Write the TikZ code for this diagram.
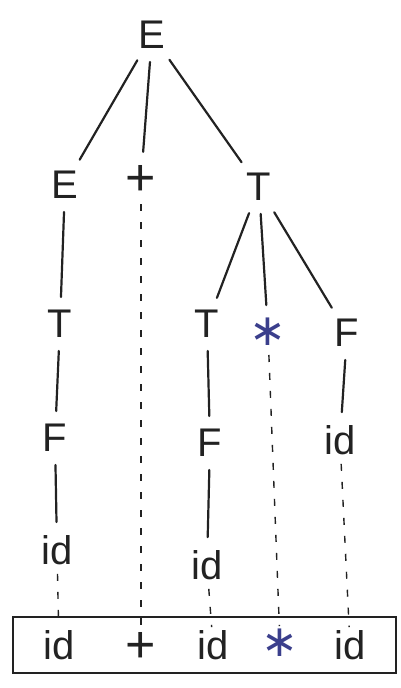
\documentclass[tikz,border=0pt]{standalone}
\usepackage{fontspec}
\setmainfont{Liberation Sans}
\newfontfamily\opfont{DejaVu Sans}
\usetikzlibrary{fit}
\definecolor{pencil}{HTML}{222222}
\definecolor{inkblue}{HTML}{3B3F8C}

\begin{document}
\begin{tikzpicture}[x=1pt, y=-1pt,
    sym/.style={inner sep=1pt, text=pencil, font=\fontsize{40}{44}\selectfont},
    plussym/.style={sym, font=\fontsize{52}{56}\selectfont},
    op/.style={sym, text=inkblue, font=\opfont\fontsize{44}{48}\selectfont},
    edge/.style={draw=pencil, line width=2.2pt, line cap=round, shorten <=12pt, shorten >=12pt},
    trace/.style={draw=pencil, line width=1.4pt, dash pattern=on 7pt off 11pt, shorten <=8pt, shorten >=2pt}
  ]
  \useasboundingbox (0,0) rectangle (401,688);

  % derivation tree
  \node[sym]     (root)  at (152,35)  {E};
  \node[sym]     (e2)    at (65,185)  {E};
  \node[plussym] (plus2) at (141,180) {+};
  \node[sym]     (t2)    at (259,187) {T};
  \node[sym]     (t3l)   at (60,324)  {T};
  \node[sym]     (t3m)   at (207,324) {T};
  \node[op]      (star3) at (268,332) {∗};
  \node[sym]     (f3)    at (347,333) {F};
  \node[sym]     (f4l)   at (55,438)  {F};
  \node[sym]     (f4m)   at (210,443) {F};
  \node[sym]     (id4)   at (340,440) {id};
  \node[sym]     (id5l)  at (57,550)  {id};
  \node[sym]     (id5m)  at (207,565) {id};

  % yield
  \node[sym]     (leafid1)  at (59,645)  {id};
  \node[plussym] (leafplus) at (141,647) {+};
  \node[sym]     (leafid2)  at (213,645) {id};
  \node[op]      (leafstar) at (280,643) {∗};
  \node[sym]     (leafid3)  at (350,645) {id};
  \node[draw=pencil, line width=2pt, inner xsep=29pt, inner ysep=12pt,
        fit=(leafid1)(leafid3)] (sentence) {};

  \foreach \a/\b in {root/e2, root/plus2, root/t2, e2/t3l, t2/t3m, t2/star3,
                     t2/f3, t3l/f4l, t3m/f4m, f3/id4, f4l/id5l, f4m/id5m}
    \draw[edge] (\a) -- (\b);

  \foreach \a/\b in {plus2/leafplus, star3/leafstar, id4/leafid3,
                     id5l/leafid1, id5m/leafid2}
    \draw[trace] (\a) -- (\b);
\end{tikzpicture}
\end{document}
